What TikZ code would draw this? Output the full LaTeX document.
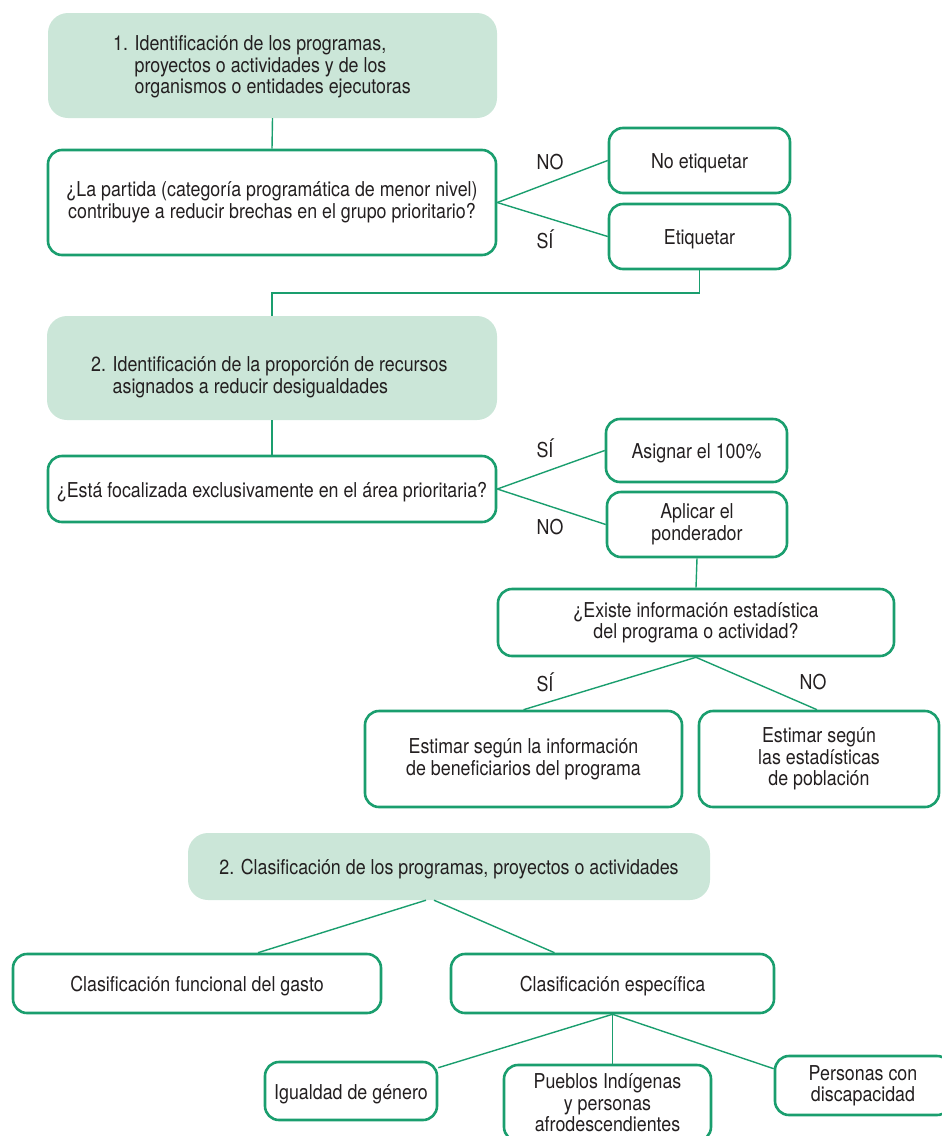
\documentclass[tikz,border=0pt]{standalone}
\usepackage{fontspec}
\setmainfont{TeX Gyre Heros}[FakeStretch=0.87]
\definecolor{gline}{HTML}{1A9E6E}
\definecolor{gfill}{HTML}{CBE6D8}
\definecolor{txt}{HTML}{231F20}
\newcommand\toplift{\rule{0pt}{20.5pt}}
\tikzset{
  obox/.style={draw=gline, line width=2.6pt, rounded corners=14pt, align=center, inner sep=0pt, execute at begin node=\toplift},
  gbox/.style={fill=gfill, rounded corners=20pt, inner sep=0pt},
  conn/.style={draw=gline, line width=1.4pt},
  lbl/.style={inner sep=0pt},
}
\begin{document}
\begin{tikzpicture}[x=1pt,y=-1pt,font=\fontsize{20.5}{21.5}\selectfont,text=txt]
\useasboundingbox (0,0) rectangle (942,1136);
\clip (0,0) rectangle (942,1136);

% section 1
\node[gbox, minimum width=449, minimum height=105] (g1) at (272.5,65.5) {};
\node[lbl, anchor=west, align=left] (g1t) at (113,67) {1. Identificación de los programas,\\\hphantom{1. }proyectos o actividades y de los\\\hphantom{1. }organismos o entidades ejecutoras};
\node[obox, minimum width=448, minimum height=105] (q1) at (272,202.5) {¿La partida (categoría programática de menor nivel)\\contribuye a reducir brechas en el grupo prioritario?};
\node[obox, minimum width=181, minimum height=65] (ne) at (699.5,160.5) {No etiquetar};
\node[obox, minimum width=181, minimum height=65] (et) at (699.5,236.5) {Etiquetar};
\node[lbl] (l1) at (550,162) {NO};
\node[lbl] (l2) at (545,239) {SÍ};
\coordinate (bend) at (699.5,293);

% section 2
\node[gbox, minimum width=450, minimum height=104] (g2) at (272,368) {};
\node[lbl, anchor=west, align=left] (g2t) at (91,377) {2. Identificación de la proporción de recursos\\\hphantom{2. }asignados a reducir desigualdades};
\node[obox, minimum width=448, minimum height=66] (q2) at (272,489) {¿Está focalizada exclusivamente en el área prioritaria?};
\node[obox, minimum width=181, minimum height=63] (as) at (696.5,450.5) {Asignar el 100\%};
\node[obox, minimum width=180, minimum height=65] (ap) at (697,524.5) {Aplicar el\\ponderador};
\node[lbl] (l3) at (545,448) {SÍ};
\node[lbl] (l4) at (550,527) {NO};
\node[obox, minimum width=396, minimum height=67] (q3) at (696,622.5) {¿Existe información estadística\\del programa o actividad?};
\node[obox, minimum width=317, minimum height=96] (e1) at (523.5,759) {Estimar según la información\\de beneficiarios del programa};
\node[obox, minimum width=240, minimum height=96] (e2) at (819,759) {Estimar según\\las estadísticas\\de población};
\node[lbl] (l5) at (545,682) {SÍ};
\node[lbl] (l6) at (813,682) {NO};

% section 3
\node[gbox, minimum width=522, minimum height=67, execute at begin node=\toplift] (g3) at (449,866.5) {2. Clasificación de los programas, proyectos o actividades};
\node[obox, minimum width=368, minimum height=59] (cf) at (197,983.5) {Clasificación funcional del gasto};
\node[obox, minimum width=323, minimum height=59] (ce) at (612.5,983.5) {Clasificación específica};
\node[obox, minimum width=172, minimum height=58] (ig) at (351,1091) {Igualdad de género};
\node[obox, minimum width=207, minimum height=76] (pb) at (607.5,1103) {Pueblos Indígenas\\y personas\\afrodescendientes};
\node[obox, minimum width=176, minimum height=59] (pe) at (863,1085.5) {Personas con\\discapacidad};

% connectors
\draw[conn] (g1.south) -- (q1.north);
\draw[conn] (q1.east) -- (ne.west);
\draw[conn] (q1.east) -- (et.west);
\draw[conn] (et.south) -- (bend) -| (g2.north);
\draw[conn] (g2.south) -- (q2.north);
\draw[conn] (q2.east) -- (as.west);
\draw[conn] (q2.east) -- (ap.west);
\draw[conn] (ap.south) -- (q3.north);
\draw[conn] (q3.south) -- (e1.north);
\draw[conn] (q3.south) -- ([xshift=-2pt]e2.north);
\draw[conn] ([xshift=-23pt]g3.south) -- ([xshift=61pt]cf.north);
\draw[conn] ([xshift=-15pt]g3.south) -- ([xshift=-58pt]ce.north);
\draw[conn] (ce.south) -- ([yshift=-7pt]ig.north east);
\draw[conn] (ce.south) -- (ce.south |- pb.north);
\draw[conn] (ce.south) -- ([yshift=-14pt]pe.north west);
\end{tikzpicture}
\end{document}
